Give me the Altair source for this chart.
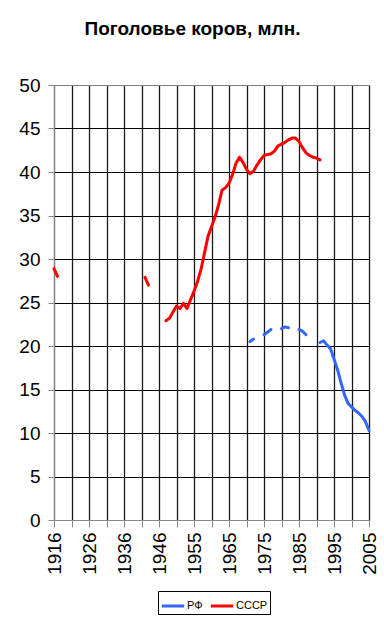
import altair as alt
import pandas as pd

title_text = "Поголовье коров, млн."

# Category axis (Excel-style): 91 categories, one repeated year (1953)
categories = ([str(y) for y in range(1916, 1954)] + ["1953"]
              + [str(y) for y in range(1954, 2006)])

series_names = ["РФ", "СССР"]
series_colors = ["#3366FF", "#FF0000"]

ussr_values = (
    [28.9, 28.0]
    + [None] * 24
    + [27.9, 27.0]
    + [None] * 4
    + [22.9, 23.2, 23.9, 24.6, 24.3, 24.9, 24.3, 25.3, 26.3, 27.4,
       28.8, 30.7, 32.6, 33.7, 34.8, 36.2, 37.9, 38.2, 38.7, 39.7,
       41.0, 41.7, 41.1, 40.3, 39.8, 40.1, 40.8, 41.4, 41.9, 42.0,
       42.1, 42.4, 43.0, 43.2, 43.4, 43.7, 43.9, 43.9, 43.5, 42.8,
       42.2, 41.9, 41.7, 41.6, 41.4]
    + [None] * 14
)

rf_values = (
    [None] * 56
    + [20.5, 20.8]
    + [None] * 2
    + [21.3, 21.6, 21.9]
    + [None] * 2
    + [22.0, 22.2, 22.1]
    + [None] * 2
    + [21.9, 21.7, 21.3]
    + [None] * 3
    + [20.4, 20.6, 20.1, 19.7, 18.5, 17.3, 15.8, 14.4, 13.4, 13.0,
       12.6, 12.3, 11.9, 11.3, 10.3]
)

rows = []
for name, vals in [("РФ", rf_values), ("СССР", ussr_values)]:
    seg = 0
    prev = None
    for i, v in enumerate(vals):
        if v is None:
            prev = None
            continue
        if prev is None:
            seg += 1
        rows.append({"idx": i, "label": categories[i], "value": v,
                     "series": name, "seg": f"{name}-{seg}"})
        prev = v
df = pd.DataFrame(rows)

labels_js = "[" + ",".join(f"'{c}'" for c in categories) + "]"
label_expr = f"datum.value % 10 == 0 ? {labels_js}[datum.value] : ''"

FONT = "Liberation Sans"

chart = alt.Chart(df).mark_line(
    strokeWidth=3, strokeCap="round", strokeJoin="round"
).encode(
    x=alt.X("idx:Q",
            scale=alt.Scale(domain=[0, 90], nice=False, zero=False),
            axis=alt.Axis(values=list(range(0, 91, 5)), labelExpr=label_expr,
                          labelAngle=-90, title=None, labelFlush=False,
                          labelOverlap=False, tickSize=7, labelPadding=5,
                          labelFontSize=19, gridWidth=1.3, gridColor="#1a1a1a")),
    y=alt.Y("value:Q",
            scale=alt.Scale(domain=[0, 50], nice=False),
            axis=alt.Axis(values=list(range(0, 51, 5)), title=None,
                          tickSize=6, labelPadding=8, labelFontSize=19,
                          gridColor={"condition": {"test": "datum.value == 50", "value": "#808080"},
                                     "value": "black"})),
    color=alt.Color("series:N",
                    scale=alt.Scale(domain=series_names, range=series_colors),
                    legend=alt.Legend(title=None, orient="none", legendX=104, legendY=506,
                                      direction="horizontal", symbolType="stroke",
                                      symbolSize=500, symbolStrokeWidth=3,
                                      labelFont=FONT, labelFontSize=11, labelColor="black",
                                      strokeColor="black", fillColor="white",
                                      padding=2, columnPadding=1, labelOffset=1)),
    detail="seg:N",
).properties(
    width=315,
    height=435,
    title=alt.TitleParams(title_text, font=FONT, fontSize=19, fontWeight="bold",
                          anchor="middle", dx=-19, offset=37, color="black"),
    autosize=alt.AutoSizeParams(type="none"),
    padding={"left": 54, "top": 85, "right": 15, "bottom": 101},
).configure_view(
    fill="#C0C0C0", stroke="#808080", strokeWidth=1
).configure_axis(
    domainColor="black", tickColor="black", gridColor="black", gridWidth=1,
    labelColor="black", labelFont=FONT, grid=True, domainWidth=1
).configure(background="white")

chart.save("out.html", embed_options={"renderer": "svg", "actions": False})
